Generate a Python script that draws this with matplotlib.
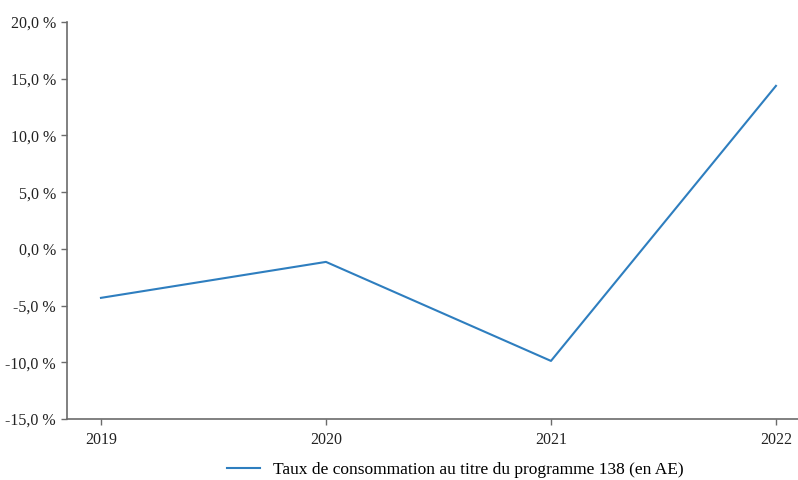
import matplotlib
matplotlib.use("Agg")
import matplotlib.pyplot as plt
from matplotlib.ticker import FuncFormatter

years = ["2019", "2020", "2021", "2022"]
taux = [-4.32, -1.15, -9.88, 14.37]
label = "Taux de consommation au titre du programme 138 (en AE)"

plt.rcParams['font.family'] = ['Liberation Serif', 'DejaVu Serif']

fig = plt.figure(figsize=(7.98, 4.8), dpi=100)
ax = fig.add_axes([67 / 798, 61 / 480, 731 / 798, 397 / 480])

x = list(range(len(years)))
line, = ax.plot(x, taux, color='#2e7ebf', linewidth=1.5, label=label)

ax.set_xlim(-0.151, 3.098)
ax.set_ylim(-15, 20)
ax.set_yticks(range(-15, 21, 5))
ax.yaxis.set_major_formatter(FuncFormatter(lambda v, _: f"{v:.1f}".replace(".", ",") + " %"))
ax.set_xticks(x)
ax.set_xticklabels(years)

for side in ['top', 'right']:
    ax.spines[side].set_visible(False)
for side in ['left', 'bottom']:
    ax.spines[side].set_color('#6b6b6b')
    ax.spines[side].set_linewidth(1.2)
ax.tick_params(colors='#6b6b6b', labelcolor='#222222', labelsize=11.5, length=4, width=1)
ax.tick_params(axis='y', pad=4)
ax.tick_params(axis='x', pad=5)

fig.legend(handles=[line], loc='center', bbox_to_anchor=(455 / 798, 1 - 470 / 480),
           frameon=False, fontsize=12.5, handlelength=1.9, handletextpad=0.75)

fig.savefig("out.png", dpi=100)
